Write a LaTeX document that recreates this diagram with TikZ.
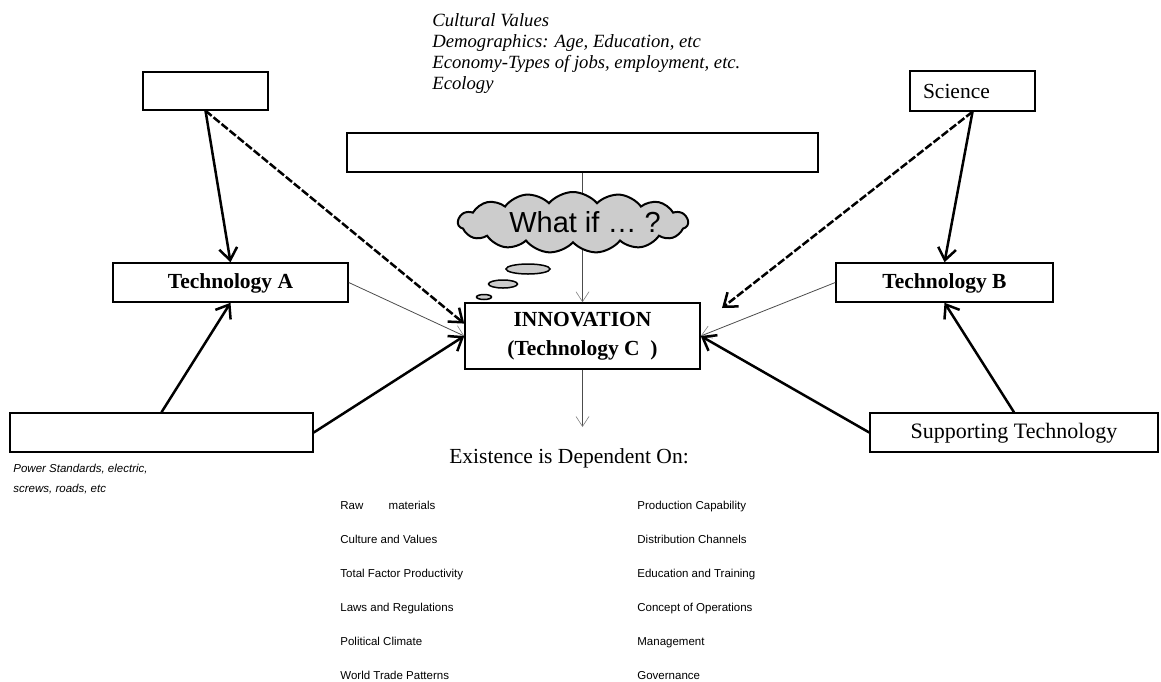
\documentclass[tikz,border=0pt]{standalone}
\usepackage{fontspec}
\setmainfont{Liberation Serif}
\newfontfamily\arialfont{Liberation Sans}
\usetikzlibrary{arrows.meta,calc,shapes.symbols,shapes.geometric}
\definecolor{CloudClr}{rgb}{0.8,0.8,0.8}
\definecolor{ThinClr}{rgb}{0.3,0.3,0.3}

\begin{document}
\begin{tikzpicture}[x=0.5pt,y=-0.5pt,
  box/.style={draw,line width=0.75pt,inner sep=0pt,font=\fontsize{10.75}{14.5}\selectfont},
  heavy/.style={line width=1.25pt,-{Straight Barb[length=6pt,width=9pt]}},
  heavydash/.style={heavy,dash pattern=on 4pt off 1.2pt},
  light/.style={line width=0.4pt,draw=ThinClr,-{Straight Barb[length=5pt,width=6.5pt,line width=0.3pt,color=gray]}},
  small/.style={font=\arialfont\fontsize{5.75}{10}\selectfont,anchor=base west,inner sep=0pt}]
\useasboundingbox (0,0) rectangle (1161,681);

\node[anchor=north west,inner sep=0pt,align=left,font=\itshape\fontsize{9.33}{10.5}\selectfont] (factors) at (432,13)
  {Cultural Values\\Demographics: Age, Education, etc\\Economy-Types of jobs, employment, etc.\\Ecology};

\node[box,minimum width=62.5pt,minimum height=19pt] (blank) at (205.5,91) {};
\node[box,minimum width=62.5pt,minimum height=20pt,text width=49.5pt,align=left] (science) at (972.5,91) {Science};
\node[box,minimum width=235.5pt,minimum height=19.5pt] (top) at (582.5,152.5) {};
\node[box,minimum width=117.5pt,minimum height=19.5pt,font=\bfseries\fontsize{10.75}{14.5}\selectfont,text height=7.5pt,text depth=1.5pt] (techA) at (230.5,282.5) {Technology A};
\node[box,minimum width=108.5pt,minimum height=19.5pt,font=\bfseries\fontsize{10.75}{14.5}\selectfont,text height=7.5pt,text depth=1.5pt] (techB) at (944.5,282.5) {Technology B};
\node[box,minimum width=117.5pt,minimum height=33pt,align=center,font=\bfseries\fontsize{10.75}{14.5}\selectfont] (innov) at (582.5,336) {INNOVATION\\(Technology C\ \ )};
\node[box,minimum width=151.5pt,minimum height=19.5pt] (base) at (161.5,432.5) {};
\node[box,minimum width=144pt,minimum height=19.5pt,font=\fontsize{11}{13}\selectfont,text height=7.5pt,text depth=1.5pt] (support) at (1014,432.5) {Supporting Technology};

\draw[light] (top.south) -- (innov.north);

\node[cloud,cloud puffs=15,cloud puff arc=100,aspect=3.8,draw,line width=1pt,fill=CloudClr,minimum width=115pt,minimum height=30.5pt] (thought) at (573,222.5) {};
\node[font=\arialfont\fontsize{14.5}{16}\selectfont] (whatif) at (585,222) {What if … ?};
\node[ellipse,draw,line width=0.75pt,fill=CloudClr,inner sep=0pt,minimum width=22pt,minimum height=5pt] (bubA) at (528,269) {};
\node[ellipse,draw,line width=0.75pt,fill=CloudClr,inner sep=0pt,minimum width=14.5pt,minimum height=4pt] (bubB) at (503,284) {};
\node[ellipse,draw,line width=0.75pt,fill=CloudClr,inner sep=0pt,minimum width=7.5pt,minimum height=2.5pt] (bubC) at (484,297) {};

\coordinate (sciend) at (722,308);
\coordinate (depend) at (582.5,427);

\draw[heavy] (blank.south) -- (techA.north);
\draw[heavydash] (blank.south) -- (innov.174);
\draw[light] (techA.east) -- (innov.west);
\draw[heavy] (base.north) -- (techA.south);
\draw[heavy] (base.east) -- (innov.west);

\draw[heavy] (science.south) -- (techB.north);
\draw[heavydash] (science.south) -- (sciend);
\draw[light] (techB.west) -- (innov.east);
\draw[heavy] (support.north) -- (techB.south);
\draw[heavy] (support.west) -- (innov.east);

\draw[light] (innov.south) -- (depend);

\node[anchor=north west,inner sep=0pt,align=left,font=\arialfont\itshape\fontsize{5.75}{10}\selectfont] (power) at (13,464)
  {Power Standards, electric,\\screws, roads, etc};

\node[font=\fontsize{10.75}{13}\selectfont] (exist) at (569,458) {Existence is Dependent On:};

\node[small] (raw) at (340,509) {Raw\hspace*{2.2em}materials};
\node[small] (culture) at (340,543) {Culture and Values};
\node[small] (tfp) at (340,577) {Total Factor Productivity};
\node[small] (laws) at (340,611) {Laws and Regulations};
\node[small] (climate) at (340,645) {Political Climate};
\node[small] (trade) at (340,679) {World Trade Patterns};
\node[small] (prod) at (637,509) {Production Capability};
\node[small] (distr) at (637,543) {Distribution Channels};
\node[small] (edu) at (637,577) {Education and Training};
\node[small] (conops) at (637,611) {Concept of Operations};
\node[small] (mgmt) at (637,645) {Management};
\node[small] (gov) at (637,679) {Governance};

\end{tikzpicture}
\end{document}
